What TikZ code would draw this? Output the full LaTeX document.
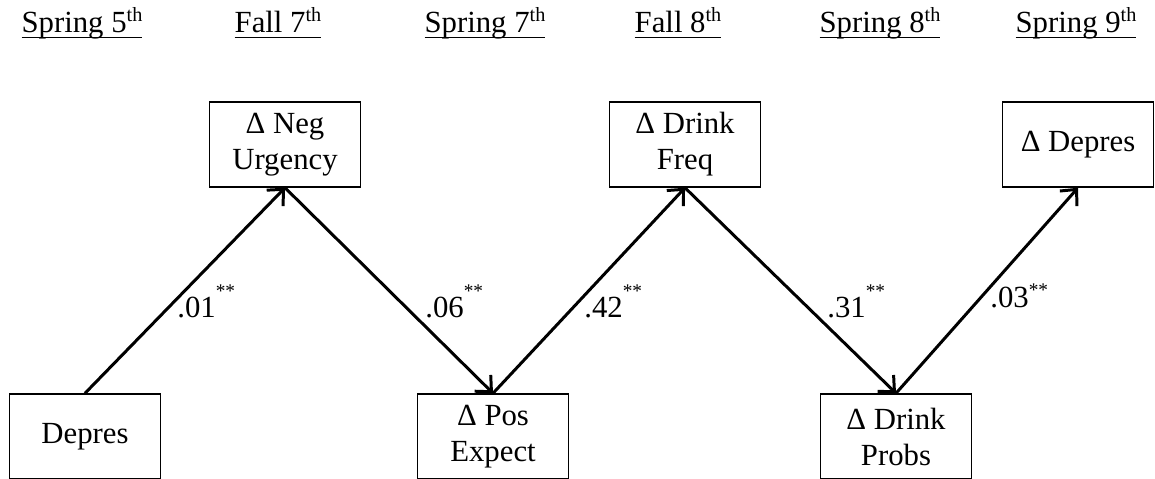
\documentclass[tikz,border=0pt]{standalone}
\usepackage{fontspec}
\setmainfont{Liberation Serif}
\usetikzlibrary{arrows.meta,positioning}
\newcommand{\sups}[1]{\raisebox{6pt}{\fontsize{11.5}{11.5}\selectfont #1}}
\newcommand{\twostar}[1][11pt]{\raisebox{#1}{\fontsize{11}{11}\selectfont **}}
\newcommand{\hdr}[1]{\setbox0\hbox{#1}\rlap{\rule[-3.6pt]{\wd0}{0.8pt}}\box0}

\begin{document}
\begin{tikzpicture}[x=0.02cm,y=-0.02cm,
   every node/.style={font=\fontsize{17.5}{20.5}\selectfont},
   box/.style={draw,line width=0.85pt,minimum width=3.02cm,minimum height=1.7cm,align=center,inner sep=0pt},
   lbl/.style={anchor=base west,inner sep=0pt},
   hd/.style={anchor=base,inner sep=0pt},
   >={Straight Barb[length=7pt,width=13pt]}]
   \useasboundingbox (0,0) rectangle (1155,478);
   % time points
   \node[hd] (t1) at (82,32)   {\hdr{Spring 5\sups{th}}};
   \node[hd] (t2) at (278,32)  {\hdr{Fall 7\sups{th}}};
   \node[hd] (t3) at (485,32)  {\hdr{Spring 7\sups{th}}};
   \node[hd] (t4) at (678,32)  {\hdr{Fall 8\sups{th}}};
   \node[hd] (t5) at (880,32)  {\hdr{Spring 8\sups{th}}};
   \node[hd] (t6) at (1076,32) {\hdr{Spring 9\sups{th}}};
   % measures
   \node[box] (dep)     at (85,436.5)   {Depres};
   \node[box] (negurg)  at (285,144.5)  {Δ Neg\\Urgency};
   \node[box] (posexp)  at (493,436.5)  {Δ Pos\\Expect};
   \node[box] (drkfreq) at (685,144.5)  {Δ Drink\\Freq};
   \node[box] (drkprob) at (896,436.5)  {Δ Drink\\Probs};
   \node[box] (ddep)    at (1078,144.5) {Δ Depres};
   \path[->,line width=1.7pt]
   (dep.north)     edge (negurg.south)
   (negurg.south)  edge (posexp.north)
   (posexp.north)  edge (drkfreq.south)
   (drkfreq.south) edge (drkprob.north)
   (drkprob.north) edge (ddep.south);
   % coefficients
   \node[lbl] (b1) at (177,317) {.01\twostar};
   \node[lbl] (b2) at (425,317) {.06\twostar};
   \node[lbl] (b3) at (584,317) {.42\twostar};
   \node[lbl] (b4) at (827,317) {.31\twostar};
   \node[lbl] (b5) at (990,307) {.03\twostar[6pt]};
\end{tikzpicture}
\end{document}
